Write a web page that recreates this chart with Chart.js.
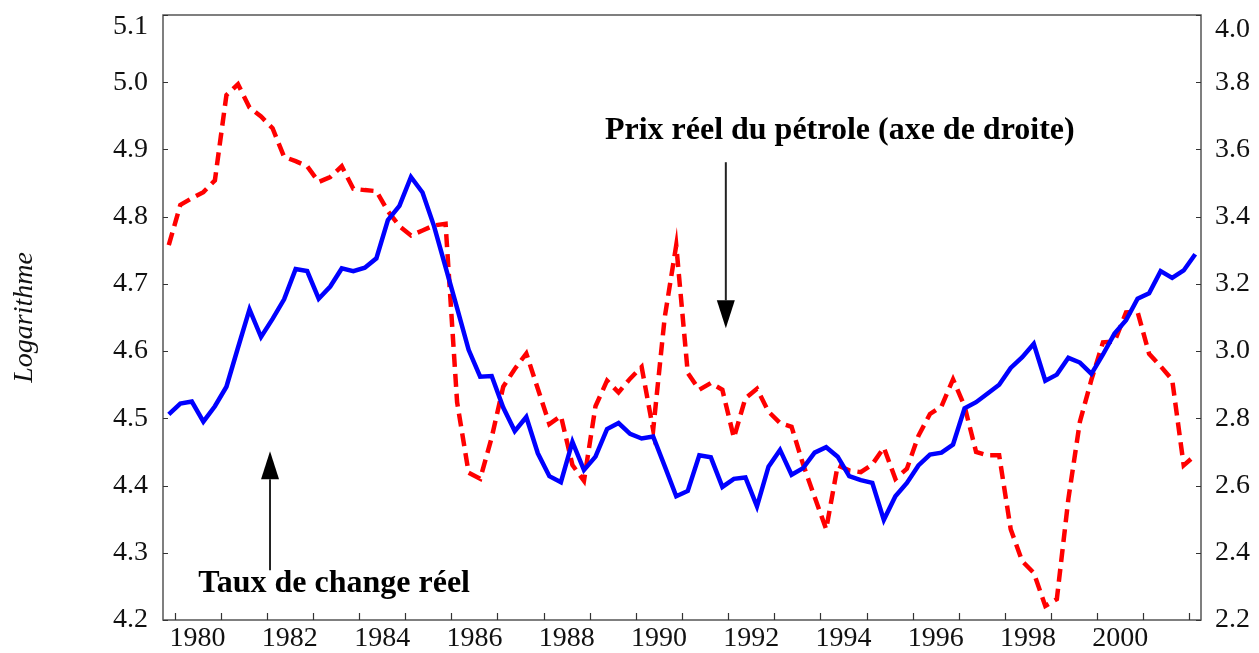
<!DOCTYPE html>
<html>
<head>
<meta charset="utf-8">
<script src="https://cdn.jsdelivr.net/npm/chart.js@4.4.1/dist/chart.umd.min.js"></script>
<style>
  html, body { margin: 0; padding: 0; background: #fff; }
  #chart { display: block; }
</style>
</head>
<body>
<canvas id="chart" width="1259" height="653"></canvas>
<script>
// trimestres, 1979T4 -> 2002T1
const firstQuarter = { year: 1979, q: 4 };
const lastQuarter = { year: 2002, q: 1 };

// taux de change réel (axe de gauche, logarithme)
const tauxChange = [
  4.506, 4.522, 4.525, 4.495, 4.518, 4.547, 4.605, 4.662, 4.621, 4.648,
  4.677, 4.722, 4.719, 4.678, 4.696, 4.723, 4.719, 4.724, 4.738, 4.795,
  4.816, 4.859, 4.836, 4.786, 4.725, 4.664, 4.602, 4.562, 4.563, 4.516,
  4.481, 4.502, 4.448, 4.414, 4.405, 4.465, 4.423, 4.443, 4.484, 4.493,
  4.477, 4.470, 4.473, 4.429, 4.384, 4.392, 4.445, 4.442, 4.398, 4.410,
  4.412, 4.369, 4.428, 4.453, 4.416, 4.426, 4.449, 4.457, 4.443, 4.414,
  4.408, 4.404, 4.349, 4.384, 4.404, 4.430, 4.446, 4.449, 4.461, 4.515,
  4.524, 4.537, 4.550, 4.575, 4.591, 4.611, 4.556, 4.565, 4.590, 4.583,
  4.566, 4.595, 4.626, 4.646, 4.678, 4.686, 4.719, 4.709, 4.720, 4.744
];

// prix réel du pétrole (axe de droite, logarithme)
const prixPetrole = [
  3.315, 3.435, 3.455, 3.473, 3.508, 3.762, 3.794, 3.725, 3.698, 3.663,
  3.578, 3.565, 3.550, 3.503, 3.518, 3.550, 3.483, 3.479, 3.476, 3.416,
  3.372, 3.344, 3.359, 3.374, 3.379, 2.848, 2.638, 2.620, 2.743, 2.894,
  2.947, 2.993, 2.888, 2.783, 2.807, 2.661, 2.614, 2.836, 2.912, 2.877,
  2.918, 2.953, 2.766, 3.100, 3.315, 2.935, 2.885, 2.905, 2.885, 2.742,
  2.860, 2.888, 2.820, 2.786, 2.775, 2.663, 2.566, 2.470, 2.660, 2.645,
  2.640, 2.663, 2.713, 2.620, 2.650, 2.748, 2.813, 2.836, 2.916, 2.836,
  2.700, 2.690, 2.690, 2.470, 2.375, 2.340, 2.242, 2.262, 2.560, 2.790,
  2.915, 3.026, 3.028, 3.115, 3.117, 2.992, 2.955, 2.915, 2.660, 2.690
];

const yearLabels = ['1980', '1982', '1984', '1986', '1988', '1990', '1992', '1994', '1996', '1998', '2000'];
const leftTicks = [4.2, 4.3, 4.4, 4.5, 4.6, 4.7, 4.8, 4.9, 5.0, 5.1];
const rightTicks = [2.2, 2.4, 2.6, 2.8, 3.0, 3.2, 3.4, 3.6, 3.8, 4.0];

const labelPetrole = 'Prix réel du pétrole (axe de droite)';
const labelTaux = 'Taux de change réel';
const labelAxe = 'Logarithme';

// annotation anchors (year, left-axis value)
const notes = {
  petrole: { x: 1994.42, y: 4.928, arrowFrom: 4.881, arrowTo: 4.634, arrowX: 1991.95 },
  taux: { x: 1983.46, y: 4.254, arrowFrom: 4.274, arrowTo: 4.451, arrowX: 1982.07 }
};

// quarter midpoints as decimal years
const quarters = [];
for (let yr = firstQuarter.year, q = firstQuarter.q; yr < lastQuarter.year || (yr === lastQuarter.year && q <= lastQuarter.q); ) {
  quarters.push(yr + (q - 0.5) / 4);
  q++;
  if (q > 4) { q = 1; yr++; }
}

const SERIF = '"Liberation Serif", "Times New Roman", serif';
const tickFont = { family: SERIF, size: 28 };

const noEdgePadding = (scale) => {
  scale.paddingTop = 0;
  scale.paddingBottom = 0;
  scale.paddingLeft = 0;
  scale.paddingRight = 0;
};

const framePlugin = {
  id: 'frame',
  afterDraw(chart) {
    const { ctx, chartArea, scales } = chart;
    const { left, right, top, bottom } = chartArea;
    const x = scales.x, y = scales.y, y2 = scales.y2;
    ctx.save();

    // box
    ctx.strokeStyle = '#555';
    ctx.lineWidth = 1.5;
    ctx.strokeRect(left, top, right - left, bottom - top);

    // inward tick marks
    ctx.lineWidth = 1.2;
    ctx.strokeStyle = '#333';
    ctx.beginPath();
    for (let yr = Math.ceil(x.min); yr <= Math.floor(x.max); yr++) {
      const px = Math.round(x.getPixelForValue(yr)) + 0.5;
      ctx.moveTo(px, bottom);
      ctx.lineTo(px, bottom - 7);
    }
    leftTicks.forEach(v => {
      const py = Math.round(y.getPixelForValue(v)) + 0.5;
      ctx.moveTo(left, py);
      ctx.lineTo(left + 5, py);
    });
    rightTicks.forEach(v => {
      const py = Math.round(y2.getPixelForValue(v)) + 0.5;
      ctx.moveTo(right, py);
      ctx.lineTo(right - 5, py);
    });
    ctx.stroke();

    // top tick labels, shifted down like the original
    ctx.fillStyle = '#111';
    ctx.font = `28px ${SERIF}`;
    ctx.textBaseline = 'middle';
    ctx.textAlign = 'right';
    ctx.fillText(leftTicks[leftTicks.length - 1].toFixed(1), left - 15, y.getPixelForValue(y.max) + 12);
    ctx.textAlign = 'left';
    ctx.fillText(rightTicks[rightTicks.length - 1].toFixed(1), right + 14, y2.getPixelForValue(y2.max) + 15);

    // annotations
    ctx.fillStyle = '#000';
    ctx.font = `bold 32px ${SERIF}`;
    ctx.textAlign = 'center';
    ctx.fillText(labelPetrole, x.getPixelForValue(notes.petrole.x), y.getPixelForValue(notes.petrole.y));
    ctx.fillText(labelTaux, x.getPixelForValue(notes.taux.x), y.getPixelForValue(notes.taux.y));

    const arrow = (ax, fromV, toV) => {
      const px = x.getPixelForValue(ax);
      const y0 = y.getPixelForValue(fromV);
      const y1 = y.getPixelForValue(toV);
      const dir = y1 > y0 ? 1 : -1;
      const head = 28;
      ctx.strokeStyle = '#222';
      ctx.lineWidth = 2;
      ctx.beginPath();
      ctx.moveTo(px, y0);
      ctx.lineTo(px, y1 - dir * head);
      ctx.stroke();
      ctx.fillStyle = '#000';
      ctx.beginPath();
      ctx.moveTo(px, y1);
      ctx.lineTo(px - 9, y1 - dir * head);
      ctx.lineTo(px + 9, y1 - dir * head);
      ctx.closePath();
      ctx.fill();
    };
    arrow(notes.petrole.arrowX, notes.petrole.arrowFrom, notes.petrole.arrowTo);
    arrow(notes.taux.arrowX, notes.taux.arrowFrom, notes.taux.arrowTo);

    ctx.restore();
  }
};

const config = {
  type: 'line',
  data: {
    datasets: [
      {
        label: labelTaux,
        data: quarters.map((q, i) => ({ x: q, y: tauxChange[i] })),
        yAxisID: 'y',
        borderColor: '#0000ff',
        borderWidth: 4.5,
        fill: false,
        tension: 0,
        pointRadius: 0,
      },
      {
        label: labelPetrole,
        data: quarters.map((q, i) => ({ x: q, y: prixPetrole[i] })),
        yAxisID: 'y2',
        borderColor: '#ff0000',
        borderWidth: 4.5,
        borderDash: [13, 7],
        fill: false,
        tension: 0,
        pointRadius: 0,
      },
    ],
  },
  options: {
    responsive: false,
    animation: false,
    devicePixelRatio: 1,
    layout: { padding: { top: 15, left: 8, right: 0, bottom: 0 } },
    plugins: { legend: { display: false }, tooltip: { enabled: false } },
    scales: {
      x: {
        type: 'linear',
        min: 1979.75,
        max: 2002.25,
        grid: { display: false, drawTicks: false },
        border: { display: false },
        afterBuildTicks: (scale) => {
          scale.ticks = yearLabels.map(l => ({ value: Number(l) + 0.5 }));
        },
        afterFit: (scale) => { scale.height = 33; noEdgePadding(scale); },
        ticks: {
          autoSkip: false,
          maxRotation: 0,
          padding: 2,
          color: '#111',
          font: tickFont,
          callback: (v) => String(Math.floor(v)),
        },
      },
      y: {
        position: 'left',
        min: leftTicks[0],
        max: leftTicks[leftTicks.length - 1],
        grid: { display: false, drawTicks: false },
        border: { display: false },
        afterBuildTicks: (scale) => { scale.ticks = leftTicks.map(v => ({ value: v })); },
        afterFit: (scale) => { scale.width = 155; noEdgePadding(scale); },
        title: {
          display: true,
          text: labelAxe,
          color: '#111',
          padding: 0,
          font: { family: SERIF, size: 28, style: 'italic' },
        },
        ticks: {
          padding: 15,
          color: '#111',
          font: tickFont,
          callback: (v) => (v === leftTicks[leftTicks.length - 1] ? '' : v.toFixed(1)),
        },
      },
      y2: {
        position: 'right',
        min: rightTicks[0],
        max: rightTicks[rightTicks.length - 1],
        grid: { display: false, drawTicks: false },
        border: { display: false },
        afterBuildTicks: (scale) => { scale.ticks = rightTicks.map(v => ({ value: v })); },
        afterFit: (scale) => { scale.width = 58; noEdgePadding(scale); },
        ticks: {
          padding: 14,
          color: '#111',
          font: tickFont,
          callback: (v) => (v === rightTicks[rightTicks.length - 1] ? '' : v.toFixed(1)),
        },
      },
    },
  },
  plugins: [framePlugin],
};

new Chart(document.getElementById('chart'), config);
</script>
</body>
</html>
